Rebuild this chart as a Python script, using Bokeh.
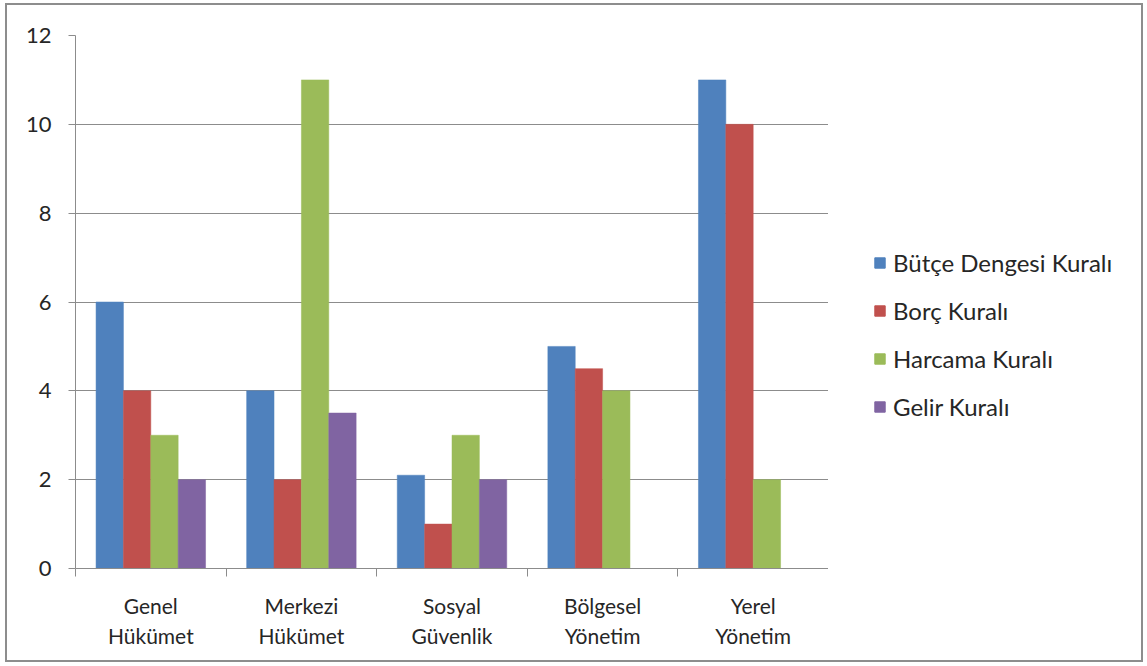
from bokeh.plotting import figure
from bokeh.layouts import row
from bokeh.models import (FactorRange, Range1d, LinearAxis, CategoricalAxis, FixedTicker,
                          Legend, LegendItem, ColumnDataSource)
from bokeh.transform import dodge
from bokeh.embed import file_html
from bokeh.resources import INLINE

categories = ["Genel\nHükümet", "Merkezi\nHükümet", "Sosyal\nGüvenlik", "Bölgesel\nYönetim", "Yerel\nYönetim"]
series_names = ["Bütçe Dengesi Kuralı", "Borç Kuralı", "Harcama Kuralı", "Gelir Kuralı"]
butce = [6, 4, 2.1, 5, 11]
borc = [4, 2, 1, 4.5, 10]
harcama = [3, 11, 3, 4, 2]
gelir = [2, 3.5, 2, float("nan"), float("nan")]
colors = ["#4F81BD", "#C0504D", "#9BBB59", "#8064A2"]
y_ticks = [0, 2, 4, 6, 8, 10, 12]

FONT = "Lato"
TXT = "#262626"
GRID = "#8c8c8c"

src = ColumnDataSource(dict(cat=categories, s0=butce, s1=borc, s2=harcama, s3=gelir))

p = figure(width=821, height=655, x_range=FactorRange(*categories), y_range=Range1d(0, 12),
           x_axis_location=None, output_backend="svg", toolbar_location=None,
           min_border_left=68, min_border_right=0, min_border_top=30, min_border_bottom=92)
p.outline_line_color = None

group = 0.727
bw = group / 4
renderers = []
for i, col in enumerate(["s0", "s1", "s2", "s3"]):
    off = (i - 1.5) * bw
    r = p.vbar(x=dodge("cat", off, range=p.x_range), top=col, width=bw, bottom=0,
               source=src, fill_color=colors[i], line_color=colors[i], line_width=0.5)
    renderers.append(r)

# y axis
p.yaxis.ticker = FixedTicker(ticks=y_ticks)
p.yaxis.major_tick_in = 0
p.yaxis.major_tick_out = 7
p.yaxis.minor_tick_line_color = None
p.yaxis.axis_line_color = GRID
p.yaxis.major_tick_line_color = GRID
p.yaxis.major_label_text_font = FONT
p.yaxis.major_label_text_font_size = "22px"
p.yaxis.major_label_text_color = TXT
p.yaxis.major_label_standoff = 17

p.ygrid.ticker = FixedTicker(ticks=y_ticks)
p.ygrid.grid_line_color = GRID
p.xgrid.grid_line_color = None

# boundary tick axis (category edges in synthetic coordinates)
tick_axis = LinearAxis(ticker=FixedTicker(ticks=list(range(len(categories) + 1))),
                       major_tick_in=0, major_tick_out=8, minor_tick_line_color=None,
                       axis_line_color=GRID, major_tick_line_color=GRID,
                       major_label_text_font_size="1px", major_label_text_color=None,
                       major_label_standoff=0)
p.add_layout(tick_axis, "below")

cat_axis = CategoricalAxis(axis_line_color=None, major_tick_line_color=None,
                           major_label_text_font=FONT, major_label_text_font_size="21px",
                           major_label_text_color=TXT, major_label_standoff=10,
                           major_label_text_line_height=1.22)
p.add_layout(cat_axis, "below")

# legend panel
p2 = figure(width=313, height=655, x_axis_location=None, y_axis_location=None,
            output_backend="svg", toolbar_location=None,
            min_border_left=0, min_border_right=0, min_border_top=0, min_border_bottom=0,
            x_range=Range1d(0, 1), y_range=Range1d(0, 1))
p2.outline_line_color = None
p2.xgrid.grid_line_color = None
p2.ygrid.grid_line_color = None
nan = float("nan")
proxies = [p2.vbar(x=[nan], top=[nan], width=0.1, fill_color=c, line_color=c) for c in colors]

legend = Legend(items=[LegendItem(label=n, renderers=[r]) for n, r in zip(series_names, proxies)],
                location=(45, 147), padding=0, margin=0, spacing=19,
                glyph_width=13, glyph_height=13, label_standoff=7,
                label_text_font=FONT, label_text_font_size="24px", label_text_color=TXT,
                border_line_color=None, background_fill_alpha=0)
p2.add_layout(legend, "center")

layout = row(p, p2, spacing=0,
             styles={"border": "2px solid #8d8d8d", "margin-left": "5px", "margin-top": "3px"})

open("out.html", "w").write(file_html(layout, INLINE))
